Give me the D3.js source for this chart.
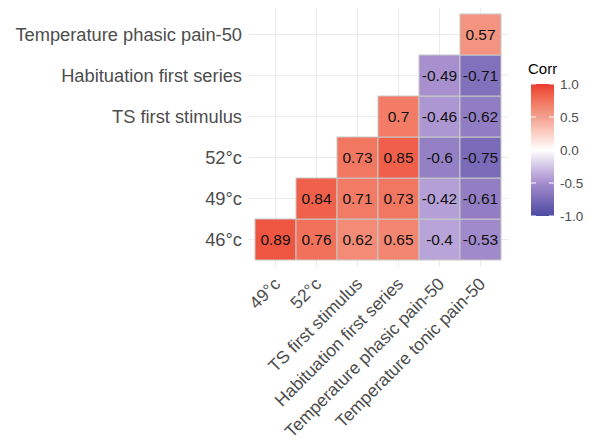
<!DOCTYPE html>
<html>
<head>
<meta charset="utf-8">
<script src="https://cdn.jsdelivr.net/npm/d3@7"></script>
<style>
  body { margin: 0; background: #fff; }
  text { font-family: "Liberation Sans", Arial, sans-serif; }
</style>
</head>
<body>
<div class="corr-container"></div>
<script>
// Data.
const xLabels = ["49°c", "52°c", "TS first stimulus", "Habituation first series",
  "Temperature phasic pain-50", "Temperature tonic pain-50"];
const yLabels = ["46°c", "49°c", "52°c", "TS first stimulus",
  "Habituation first series", "Temperature phasic pain-50"];
// one row per y label, one value per x label (null = upper triangle, not drawn)
const row46 = [0.89, 0.76, 0.62, 0.65, -0.4, -0.53];
const row49 = [null, 0.84, 0.71, 0.73, -0.42, -0.61];
const row52 = [null, null, 0.73, 0.85, -0.6, -0.75];
const rowTS = [null, null, null, 0.7, -0.46, -0.62];
const rowHab = [null, null, null, null, -0.49, -0.71];
const rowPhasic = [null, null, null, null, null, 0.57];
const legendTicks = [1.0, 0.5, 0.0, -0.5, -1.0];

const rows = [row46, row49, row52, rowTS, rowHab, rowPhasic];
const cells = [];
rows.forEach((r, i) => {
  r.forEach((v, j) => {
    if (v !== null) cells.push({ x: xLabels[j], y: yLabels[i], value: v });
  });
});

// Base.
const width = 590, height = 447;
const svg = d3.select(".corr-container").append("svg")
  .attr("width", width).attr("height", height);

// Scales.
const xScale = d3.scaleBand().domain(xLabels).range([255, 501]);
const yScale = d3.scaleBand().domain(yLabels.slice().reverse()).range([14, 260]);
const color = d3.scaleLinear()
  .domain([-1, -0.5, 0, 0.5, 1])
  .range(["#4B4AA2", "#A68ECE", "#FFFFFF", "#F3A08E", "#EB3A2E"])
  .interpolate(d3.interpolateLab);

// Grid lines (theme_minimal style).
const panel = { left: 248, right: 508, top: 8, bottom: 267 };
const grid = svg.append("g").attr("class", "grid");
grid.selectAll(".vline").data(xLabels).enter().append("line")
  .attr("x1", d => xScale(d) + xScale.bandwidth() / 2)
  .attr("x2", d => xScale(d) + xScale.bandwidth() / 2)
  .attr("y1", panel.top).attr("y2", panel.bottom)
  .style("stroke", "#EBEBEB").style("stroke-width", 1.1);
grid.selectAll(".hline").data(yLabels).enter().append("line")
  .attr("y1", d => yScale(d) + yScale.bandwidth() / 2)
  .attr("y2", d => yScale(d) + yScale.bandwidth() / 2)
  .attr("x1", panel.left).attr("x2", panel.right)
  .style("stroke", "#EBEBEB").style("stroke-width", 1.1);

// Tiles.
svg.append("g").attr("class", "tiles")
  .selectAll("rect").data(cells).enter().append("rect")
  .attr("x", d => xScale(d.x))
  .attr("y", d => yScale(d.y))
  .attr("width", xScale.bandwidth())
  .attr("height", yScale.bandwidth())
  .style("fill", d => color(d.value))
  .style("stroke", "#C8C8C8")
  .style("stroke-width", 1);

// Labels in tiles.
svg.append("g").attr("class", "tile-labels")
  .selectAll("text").data(cells).enter().append("text")
  .attr("x", d => xScale(d.x) + xScale.bandwidth() / 2)
  .attr("y", d => yScale(d.y) + yScale.bandwidth() / 2)
  .attr("text-anchor", "middle")
  .attr("dy", "0.36em")
  .style("font-size", "15.5px")
  .style("fill", "#111")
  .text(d => String(d.value));

// Y axis.
const yAxis = d3.axisLeft(yScale).tickSize(0).tickPadding(0);
const yAxisDraw = svg.append("g").attr("transform", "translate(242,0)").call(yAxis);
yAxisDraw.select(".domain").remove();
yAxisDraw.selectAll("text")
  .style("font-size", "18.3px")
  .style("fill", "#4D4D4D")
  .attr("dy", "0.35em");

// X axis, rotated 45°.
const xAxis = d3.axisBottom(xScale).tickSize(0).tickPadding(0);
const xAxisDraw = svg.append("g").attr("transform", "translate(0,268)").call(xAxis);
xAxisDraw.select(".domain").remove();
xAxisDraw.selectAll("text")
  .attr("y", 0)
  .attr("dy", 0)
  .attr("transform", "translate(6,17) rotate(-45)")
  .style("text-anchor", "end")
  .style("font-size", "17.5px")
  .style("fill", "#4D4D4D");

// Legend.
const legScale = d3.scaleLinear().domain([-1, 1]).range([216, 84]);
const barX = 531, barW = 23;
const defs = svg.append("defs");
const grad = defs.append("linearGradient").attr("id", "corr-grad")
  .attr("x1", 0).attr("y1", 1).attr("x2", 0).attr("y2", 0);
d3.range(0, 1.0001, 0.05).forEach(t => {
  grad.append("stop").attr("offset", t).attr("stop-color", color(-1 + 2 * t));
});
const legend = svg.append("g").attr("class", "legend");
legend.append("text").attr("x", 528).attr("y", 74)
  .style("font-size", "15px").style("fill", "#000").text("Corr");
legend.append("rect")
  .attr("x", barX).attr("y", legScale(1))
  .attr("width", barW).attr("height", legScale(-1) - legScale(1))
  .style("fill", "url(#corr-grad)");
legend.selectAll(".tick-l").data(legendTicks).enter().append("line")
  .attr("x1", barX).attr("x2", barX + 5)
  .attr("y1", d => legScale(d)).attr("y2", d => legScale(d))
  .style("stroke", "#fff").style("stroke-width", 1);
legend.selectAll(".tick-r").data(legendTicks).enter().append("line")
  .attr("x1", barX + barW - 5).attr("x2", barX + barW)
  .attr("y1", d => legScale(d)).attr("y2", d => legScale(d))
  .style("stroke", "#fff").style("stroke-width", 1);
legend.selectAll(".lab").data(legendTicks).enter().append("text")
  .attr("x", 560)
  .attr("y", d => legScale(d))
  .attr("dy", "0.35em")
  .style("font-size", "13.5px")
  .style("fill", "#4D4D4D")
  .text(d => d.toFixed(1));
</script>
</body>
</html>
